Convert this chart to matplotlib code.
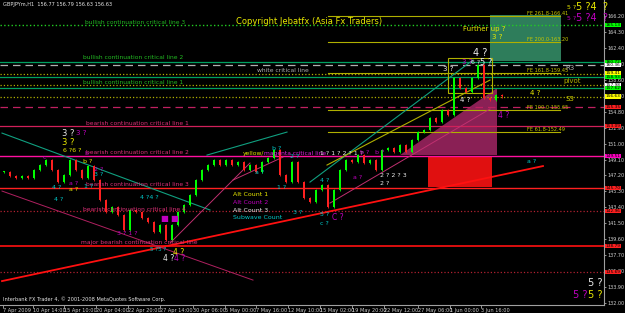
import matplotlib
matplotlib.use('Agg')
import matplotlib.pyplot as plt
from matplotlib.patches import Polygon, Rectangle

# price closes, one every 3 H1 bars
closes = [147.61, 147.13, 146.89, 147.13, 146.89, 147.84, 148.44, 149.04, 147.84, 146.41,
          147.25, 149.04, 147.84, 146.89, 148.32, 146.65, 144.27, 142.84, 143.43, 142.48,
          140.69, 143.08, 142.84, 142.12, 141.65, 140.46, 141.29, 139.50, 141.29, 142.84,
          143.67, 144.87, 146.65, 147.84, 148.44, 149.04, 148.44, 149.04, 148.44, 148.80,
          147.84, 148.44, 147.61, 148.80, 149.28, 150.23, 147.25, 146.41, 148.80, 146.41,
          144.51, 144.03, 145.46, 146.06, 143.43, 145.46, 147.84, 149.04, 148.80, 149.63,
          148.68, 149.04, 147.84, 150.23, 150.47, 149.99, 150.82, 149.99, 151.42, 152.37,
          152.61, 154.04, 153.57, 155.00, 154.40, 158.81, 157.62, 157.14, 158.81, 160.36,
          156.43, 156.19, 156.78, 156.63]
first_bar = 2
bar_step = 3

time_ticks = [1.5, 16.5, 32, 48, 64, 80, 96.5, 112.5, 128, 144, 160, 176, 192, 209, 225, 240.5]
time_labels = ["7 Apr 2009", "10 Apr 14:00", "15 Apr 10:00", "20 Apr 04:00", "22 Apr 20:00",
               "27 Apr 14:00", "30 Apr 06:00", "5 May 00:00", "7 May 16:00", "12 May 10:00",
               "15 May 02:00", "19 May 20:00", "22 May 12:00", "27 May 06:00", "1 Jun 00:00",
               "3 Jun 16:00"]

price_ticks = [132.00, 133.90, 135.80, 137.70, 139.60, 141.50, 143.40, 145.30, 147.20, 149.10,
               151.00, 152.90, 154.80, 156.70, 158.60, 160.50, 162.40, 164.30, 166.20]

# horizontal levels: price, color, style, width
levels = [
    (165.13, '#22cc22', ':', 1.0),
    (160.72, '#00a060', '-', 0.9),
    (160.36, '#b0b0b0', (0, (6, 4)), 0.9),
    (159.29, '#b0b000', ':', 0.9),
    (158.93, '#00a060', '-', 0.9),
    (157.98, '#b0b000', ':', 0.9),
    (157.62, '#00a060', '-', 0.9),
    (156.55, '#b0b000', ':', 0.9),
    (155.35, '#c02060', (0, (6, 4)), 0.9),
    (153.09, '#d0205a', '-', 0.9),
    (149.51, '#ff10a0', '-', 1.0),
    (145.70, '#ff2020', '-', 1.0),
    (142.96, '#b02030', ':', 0.9),
    (138.79, '#ff1010', '-', 1.2),
    (135.69, '#b02030', ':', 0.9),
]
level_names = {
    165.13: "bullish continuation critical line 3",
    160.72: "bullish continuation critical line 2",
    157.62: "bullish continuation critical line 1",
    160.36: "white critical line",
    153.09: "bearish continuation critical line 1",
    149.51: "bearish continuation critical line 2",
    145.70: "bearish continuation critical line 3",
    142.96: "bearish continuation critical line 4",
    138.79: "major bearish continuation critical line",
}

# fibonacci expansion levels (drawn from bar 164 to bar 280)
fe_prices = [166.20, 163.10, 159.41, 155.00, 152.37]
fe_labels = ["FE 261.8-166.41", "FE 200.0-163.20", "FE 161.8-159.45", "FE 100.0-155.65", "FE 61.8-152.49"]
fe_start, fe_end = 164, 280

# trendlines: (bar0, price0, bar1, price1, color, width)
trendlines = [
    (1, 134.61, 271.5, 148.32, '#ff1010', 1.3),
    (1, 152.25, 105, 143.08, '#10a080', 0.8),
    (1, 145.34, 126.5, 134.73, '#b02060', 0.7),
    (155, 146.41, 236.5, 160.96, '#10a080', 0.8),
    (163.5, 148.44, 245, 158.57, '#b0b000', 0.8),
    (165, 143.91, 245, 155.12, '#c03070', 0.7),
    (103.5, 149.63, 143.5, 152.37, '#10a080', 0.8),
    (116.5, 146.65, 141.5, 149.39, '#c03070', 0.7),
    (85, 139.14, 125, 148.68, '#c03070', 0.7),
]

# right axis price tags
tags = [(165.13, '#00ff00'), (160.72, '#00ff00'), (160.36, '#ffffff'), (159.41, '#ffff00'),
        (158.93, '#00ff00'), (157.98, '#ffffff'), (157.62, '#00ff00'), (156.63, '#ffff00'),
        (155.35, '#ff2020'), (153.09, '#ff2020'), (149.51, '#ff00c0'), (145.70, '#ff2020'),
        (142.96, '#ff2020'), (138.79, '#ff2020'), (135.69, '#ff2020')]

Y = '#e8e800'
M = '#c000c0'
W = '#e8e8e8'
T = '#00c8c8'
# wave count labels: pixel x, pixel y, text, color, size
waves = [
    (567, 7, "5 ?", Y, 4.5), (576, 7, "5 ?4  ?", Y, 7),
    (567, 18, "5 ?", M, 4.5), (576, 18, "5 ?4  ?", M, 7),
    (463, 29, "Further up ?", Y, 5), (492, 37, "3 ?", Y, 5),
    (473, 53, "4 ?", W, 7), (462, 62, "3 ?", M, 5), (471, 62, "6 ?", W, 4.5),
    (480, 62, "5 ?", W, 6), (443, 69, "3 ?", W, 5), (460, 100, "4 ?", W, 5),
    (530, 93, "4 ?", Y, 5), (498, 115, "4 ?", M, 5.5), (527, 161, "a ?", T, 4.5),
    (62, 133, "3 ?", W, 6), (76, 133, "3 ?", M, 5), (62, 142, "3 ?", Y, 6),
    (63, 150, "6 ?6 ?", Y, 4.5), (84, 153, "b", M, 4.5), (83, 161, "b ?", Y, 4.5),
    (94, 169, "2 ?", M, 4.5), (94, 174, "3 ?", T, 4.5), (52, 187, "4 ?", T, 4.5),
    (54, 199, "4 ?", T, 4.5), (69, 183, "a ?", M, 4.5), (69, 189, "a ?", Y, 4.5),
    (84, 186, "1 ?", T, 4.5), (43, 157, "c", M, 4.5), (140, 197, "4 ?4 ?", T, 4.5),
    (117, 233, "3 ? 1 ?", M, 4.5), (160, 218, "\u25a0", M, 6), (170, 218, "\u25a0", M, 6),
    (173, 252, "4 ?", Y, 5.5), (163, 258, "4 ?", W, 5.5), (174, 258, "4 ?", M, 5.5),
    (150, 249, "5 ?5 ?", T, 4), (272, 148, "b ?", T, 4.5), (290, 156, "2 ?", T, 4.5),
    (255, 172, "a ?", T, 4.5), (277, 187, "1 ?", T, 4.5), (320, 180, "4 ?", T, 4.5),
    (320, 153, "1 ? 1 ? 2 ? 1 ?", W, 4.5), (360, 152, "b ?", M, 4.5), (375, 152, "b ?", M, 4.5),
    (353, 177, "a ?", M, 4.5), (380, 175, "2 ? 2 ? 3", W, 4.5), (380, 183, "2 ?", W, 4.5),
    (293, 212, "3 ?", T, 4.5), (320, 214, "5 ?", T, 4.5), (332, 217, "C ?", M, 5.5),
    (320, 223, "c ?", T, 4.5),
    (233, 194, "Alt Count 1", Y, 4.5), (233, 202, "Alt Count 2", M, 4.5),
    (233, 210, "Alt Count 3", W, 4.5), (233, 217, "Subwave Count", T, 4.5),
    (588, 283, "5 ?", W, 7), (573, 295, "5 ?", M, 7), (588, 295, "5 ?", Y, 7),
]


def px(x, y):
    # pixel on the screenshot -> (bar, price)
    return x / 2.0, 166.2 - (y - 16) / 8.39


fig = plt.figure(figsize=(6.25, 3.13), dpi=100, facecolor='black')
ax = fig.add_axes([0.0, 8 / 313, 604 / 625, 305 / 313], facecolor='black')
ax.set_xlim(0, 302)
ax.set_ylim(131.76, 168.11)

# boxes behind everything
ax.add_patch(Rectangle((245, 160.84), 35.5, 5.48, facecolor='#2e7d5b', edgecolor='none', zorder=1))
ax.add_patch(Polygon([(200, 149.63), (248.5, 157.62), (248.5, 149.63)], closed=True,
                     facecolor='#8a2055', edgecolor='none', zorder=1))
ax.add_patch(Rectangle((214, 145.82), 32, 3.57, facecolor='#e01010', edgecolor='none', zorder=1))
ax.add_patch(Rectangle((224, 157.02), 22, 4.17, facecolor='none', edgecolor='#b0b000', lw=0.8, zorder=3))

for price, col, ls, lw in levels:
    ax.axhline(price, color=col, ls=ls, lw=lw, zorder=2)

for price, lab in zip(fe_prices, fe_labels):
    ax.plot([fe_start, fe_end], [price, price], color='#b0b000', lw=0.8, zorder=2)
    ax.text(263.5, price + 0.25, lab, color='#c8c800', fontsize=3.6, ha='left', va='center', zorder=5)

for b0, p0, b1, p1, col, lw in trendlines:
    ax.plot([b0, b1], [p0, p1], color=col, lw=lw, zorder=2)

# candles
prev = closes[0]
for i, c in enumerate(closes):
    x = first_bar + bar_step * i
    lo, hi = min(prev, c), max(prev, c)
    col = '#00ff00' if c >= prev else '#ff2020'
    ax.vlines(x, lo - 0.15, hi + 0.15, color=col, lw=0.6, zorder=4)
    ax.bar(x, max(hi - lo, 0.08), bottom=lo, width=1.2, color=col, edgecolor='none', zorder=4)
    prev = c

# level names
label_pos = {
    165.13: (135, 22), 160.72: (133, 57), 157.62: (133, 82), 160.36: (283, 70),
    153.09: (137, 123), 149.51: (137, 152), 145.70: (137, 184), 142.96: (134, 209),
    138.79: (139, 242),
}
for price, name in level_names.items():
    x, y = px(*label_pos[price])
    if price > 155:
        col = '#b0b0b0' if 'white' in name else '#22bb22'
    else:
        col = '#e0307a'
    ax.text(x, y, name, color=col, fontsize=4.3, ha='center', va='center', zorder=5)

x, y = px(243, 153)
ax.text(x, y, "yellow/", color=Y, fontsize=4.3, ha='left', va='center', zorder=5)
x, y = px(264, 153)
ax.text(x, y, "magenta critical line", color='#e020e0', fontsize=4.3, ha='left', va='center', zorder=5)

for sx, sy, s, col, fs in waves:
    x, y = px(sx, sy)
    ax.text(x, y, s, color=col, fontsize=fs, ha='left', va='center', zorder=6)

for sx, sy, s, col in [(565, 68, "R3", '#b0b0b0'), (563, 81, "pivot", '#b0b000'), (566, 99, "S3", '#c8c800')]:
    x, y = px(sx, sy)
    ax.text(x, y, s, color=col, fontsize=5, ha='left', va='center', zorder=5)

x, y = px(309, 21)
ax.text(x, y, "Copyright Jebatfx (Asia Fx Traders)", color=Y, fontsize=6, ha='center', va='center', zorder=6)
x, y = px(3, 4)
ax.text(x, y, "GBPJPYm,H1  156.77 156.79 156.63 156.63", color=W, fontsize=3.6, ha='left', va='center')
x, y = px(3, 299)
ax.text(x, y, "Interbank FX Trader 4, \u00a9 2001-2008 MetaQuotes Software Corp.", color=W,
        fontsize=3.6, ha='left', va='center')

# axes styling
for s in ['left', 'top']:
    ax.spines[s].set_visible(False)
for s in ['right', 'bottom']:
    ax.spines[s].set_color('#a0a0a0')
    ax.spines[s].set_linewidth(0.8)
ax.yaxis.tick_right()
ax.set_yticks(price_ticks)
ax.set_yticklabels([f"{p:.2f}" for p in price_ticks])
ax.set_xticks(time_ticks)
ax.set_xticklabels(time_labels)
for lab in ax.get_xticklabels():
    lab.set_horizontalalignment('left')
ax.tick_params(axis='y', colors='#d0d0d0', labelsize=3.5, length=1.5, width=0.5, pad=1)
ax.tick_params(axis='x', colors='#d0d0d0', labelsize=3.6, length=2, width=0.5, pad=0.5)

for price, col in tags:
    ax.annotate(f"{price:.2f}", xy=(1.0, price), xycoords=('axes fraction', 'data'),
                xytext=(1, 0), textcoords='offset points', fontsize=3.1, color='black',
                ha='left', va='center', annotation_clip=False, zorder=7,
                bbox=dict(boxstyle='square,pad=0.1', fc=col, ec='none'))

fig.savefig('out.png', dpi=100, facecolor='black')
